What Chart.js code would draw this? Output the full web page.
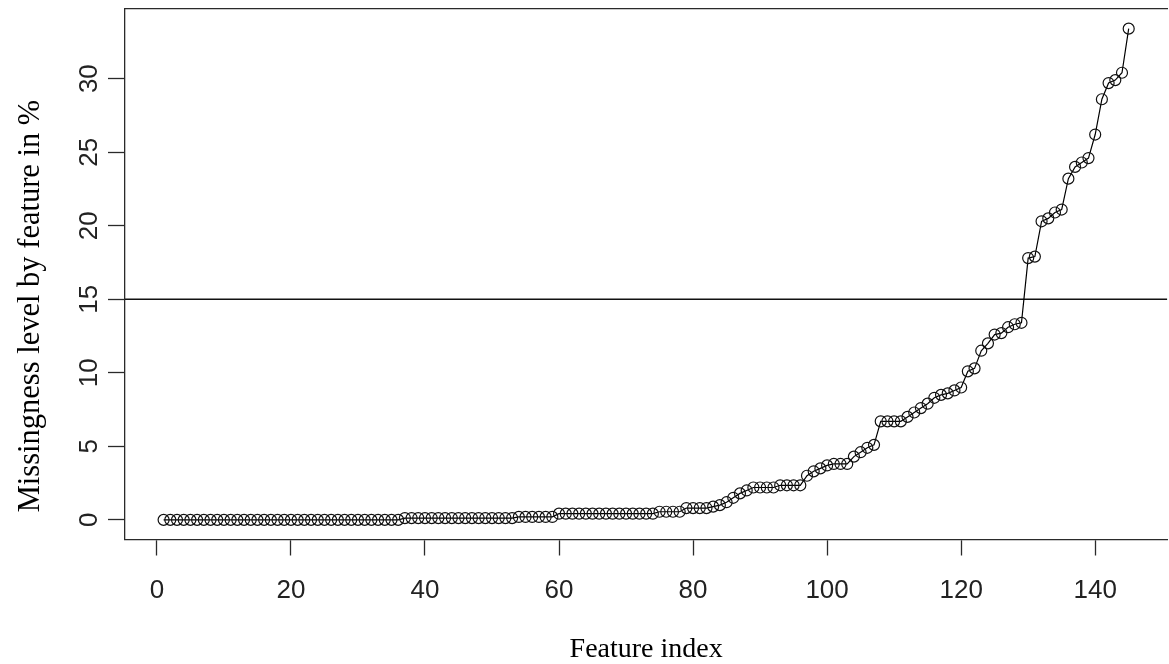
<!DOCTYPE html>
<html>
<head>
<meta charset="utf-8">
<script src="https://cdn.jsdelivr.net/npm/chart.js@4"></script>
<style>
html,body{margin:0;padding:0;background:#fff;overflow:hidden}
#wrap{position:relative;width:1174px;height:664px}
</style>
</head>
<body>
<div id="wrap"><canvas id="c"></canvas></div>
<script>
// Missingness level (%) of each feature, sorted ascending (feature index 1..145)
const missingPct = [
  0,0,0,0,0,0,0,0,0,0, 0,0,0,0,0,0,0,0,0,0, 0,0,0,0,0,0,0,0,0,0, 0,0,0,0,0,0,
  0.12,0.12,0.12,0.12,0.12,0.12,0.12,0.12,0.12,0.12,0.12,0.12,0.12,0.12,0.12,0.12,0.12,
  0.2,0.2,0.2,0.2,0.2,0.2,
  0.42,0.42,0.42,0.42,0.42,0.42,0.42,0.42,0.42,0.42,0.42,0.42,0.42,0.42,0.42,
  0.55,0.55,0.55,0.55,
  0.8,0.8,0.8,0.8,
  0.9,1.0,1.2,1.5,1.8,2.0,2.2,
  2.2,2.2,2.2,2.35,2.35,2.35,2.35,
  3.0,3.3,3.5,3.7,3.8,3.8,3.8,4.3,4.6,4.9,5.1,
  6.7,6.7,6.7,6.7,7.0,7.3,7.6,7.9,8.3,8.5,8.6,8.8,9.0,
  10.1,10.3,11.5,12.0,12.6,12.7,13.1,13.3,13.4,
  17.8,17.9,20.3,20.5,20.9,21.1,23.2,24.0,24.3,24.6,
  26.2,28.6,29.7,29.9,30.4,33.4
];
const xTickValues = [0,20,40,60,80,100,120,140];
const yTickValues = [0,5,10,15,20,25,30];
const threshold = 15;
const xTitle = 'Feature index';
const yTitle = 'Missingness level by feature in %';

// R-style axis ranges: data range extended by 4% on each side
const n = missingPct.length;
const xMin = 1 - 0.04 * (n - 1);
const xMax = n + 0.04 * (n - 1);
const yDataMax = Math.max(...missingPct);
const yMin = -0.04 * yDataMax;
const yMax = yDataMax * 1.04;

const points = missingPct.map((v, i) => ({x: i + 1, y: v}));

const axisColor = '#2a2a2a';
const tickFont = {family: 'Liberation Sans', size: 26};
const titleFont = {family: 'Liberation Serif', size: 28, lineHeight: 1};

const noPad = s => { s.paddingTop = 0; s.paddingBottom = 0; s.paddingLeft = 0; s.paddingRight = 0; };

// y-axis label, placed as in the reference (slightly below the plot centre)
const yTitlePlugin = {
  id: 'yTitle',
  afterDraw(chart) {
    const ctx = chart.ctx;
    ctx.save();
    ctx.translate(31, 306);
    ctx.rotate(-Math.PI / 2);
    ctx.font = '30.5px "Liberation Serif"';
    ctx.fillStyle = '#000';
    ctx.textAlign = 'center';
    ctx.textBaseline = 'middle';
    ctx.fillText(yTitle, 0, 0);
    ctx.restore();
  }
};

new Chart(document.getElementById('c'), {
  type: 'scatter',
  data: {
    datasets: [
      {
        data: points,
        showLine: true,
        borderColor: '#000',
        borderWidth: 1.2,
        pointStyle: 'circle',
        pointRadius: 5.5,
        pointBorderWidth: 1.2,
        pointBorderColor: '#111',
        pointBackgroundColor: 'rgba(0,0,0,0)',
        tension: 0
      },
      {
        data: [{x: xMin, y: threshold}, {x: xMax, y: threshold}],
        showLine: true,
        borderColor: '#111',
        borderWidth: 1.6,
        pointRadius: 0
      }
    ]
  },
  plugins: [yTitlePlugin],
  options: {
    responsive: true,
    maintainAspectRatio: false,
    animation: false,
    events: [],
    layout: {padding: 0},
    plugins: {legend: {display: false}, tooltip: {enabled: false}},
    scales: {
      x: {
        type: 'linear',
        position: 'bottom',
        min: xMin,
        max: xMax,
        afterBuildTicks: s => { s.ticks = xTickValues.map(v => ({value: v})); },
        afterFit: s => { s.height = 124.5; noPad(s); },
        grid: {display: true, drawOnChartArea: false, drawTicks: true, tickLength: 16, tickColor: axisColor, tickWidth: 1.3, color: axisColor},
        border: {display: true, color: axisColor, width: 1.3},
        ticks: {font: tickFont, color: '#222', maxRotation: 0, minRotation: 0, padding: 20, autoSkip: false},
        title: {display: true, text: xTitle, font: titleFont, color: '#000', padding: {top: 0, bottom: 0}}
      },
      x2: {
        type: 'linear',
        position: 'top',
        display: true,
        afterFit: s => { s.height = 9; noPad(s); },
        grid: {display: false},
        ticks: {display: false},
        border: {display: true, color: axisColor, width: 1.3}
      },
      y: {
        type: 'linear',
        position: 'left',
        min: yMin,
        max: yMax,
        afterBuildTicks: s => { s.ticks = yTickValues.map(v => ({value: v})); },
        afterFit: s => { s.width = 125; noPad(s); },
        grid: {display: true, drawOnChartArea: false, drawTicks: true, tickLength: 17, tickColor: axisColor, tickWidth: 1.3, color: axisColor},
        border: {display: true, color: axisColor, width: 1.3},
        ticks: {font: tickFont, color: '#222', minRotation: 90, maxRotation: 90, crossAlign: 'center', padding: 4, autoSkip: false},
        title: {display: false}
      }
    }
  }
});
</script>
</body>
</html>
